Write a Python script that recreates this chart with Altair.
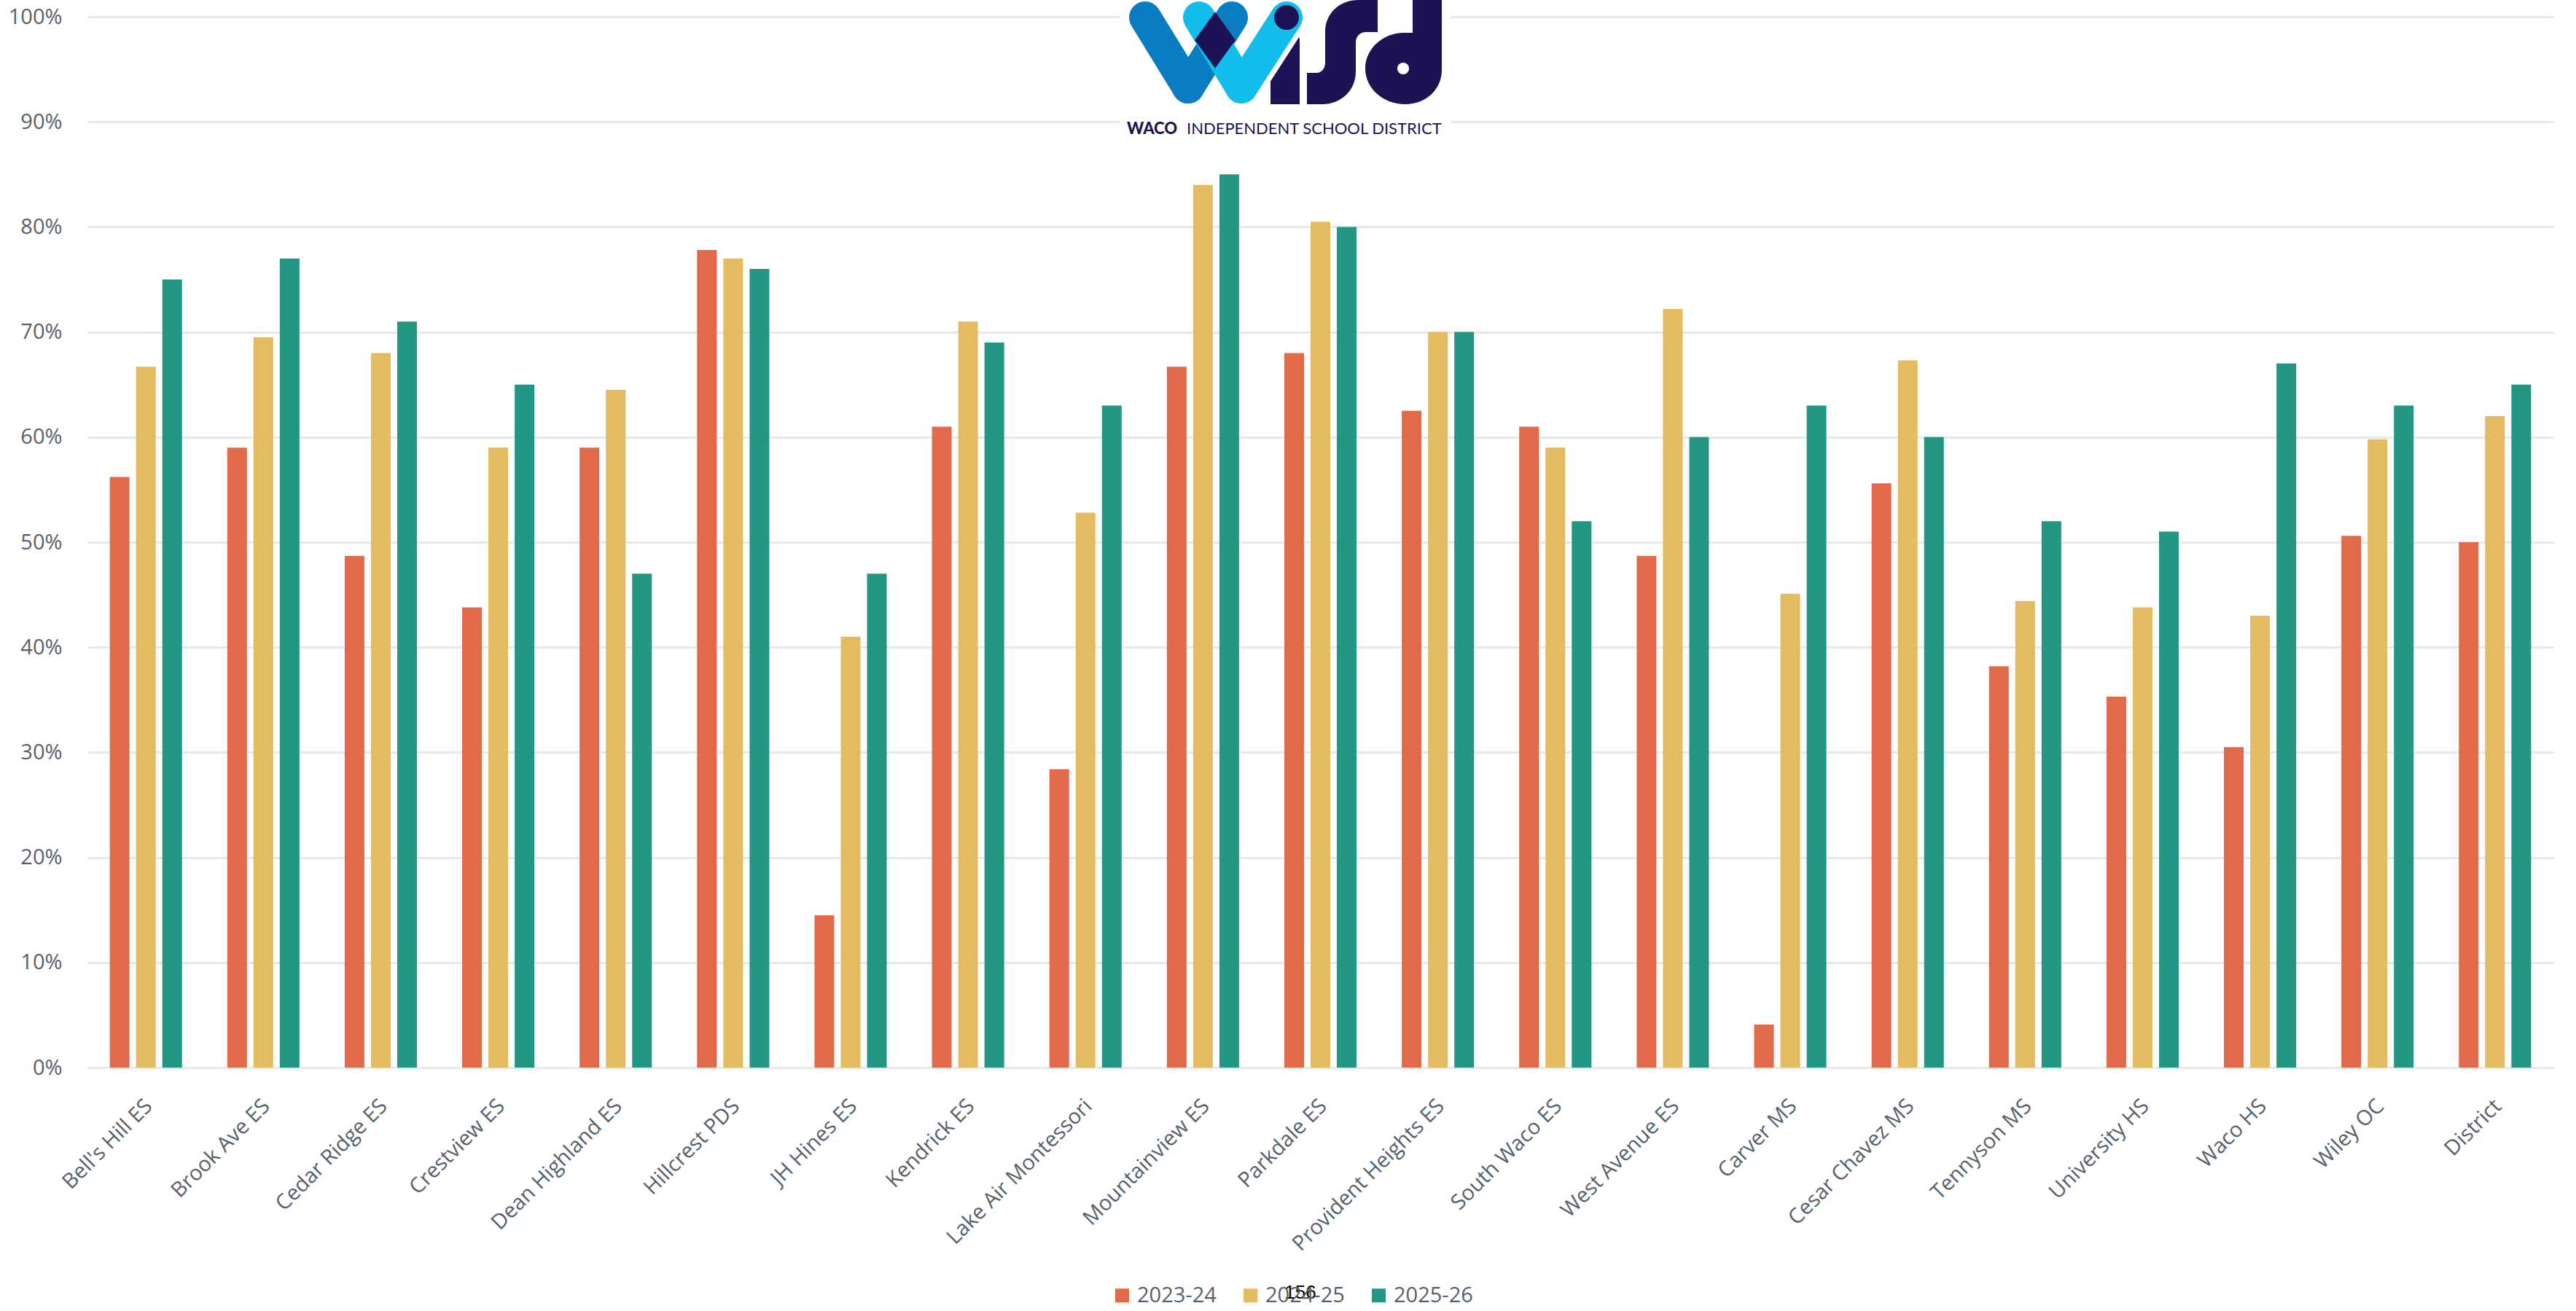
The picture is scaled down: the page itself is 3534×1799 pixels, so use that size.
import altair as alt
import pandas as pd

schools = ["Bell's Hill ES", "Brook Ave ES", "Cedar Ridge ES", "Crestview ES", "Dean Highland ES",
           "Hillcrest PDS", "JH Hines ES", "Kendrick ES", "Lake Air Montessori", "Mountainview ES",
           "Parkdale ES", "Provident Heights ES", "South Waco ES", "West Avenue ES", "Carver MS",
           "Cesar Chavez MS", "Tennyson MS", "University HS", "Waco HS", "Wiley OC", "District"]
years = ["2023-24", "2024-25", "2025-26"]
v2023 = [56.2, 59.0, 48.7, 43.8, 59.0, 77.8, 14.5, 61.0, 28.4, 66.7, 68.0, 62.5, 61.0, 48.7, 4.1, 55.6, 38.2, 35.3, 30.5, 50.6, 50.0]
v2024 = [66.7, 69.5, 68.0, 59.0, 64.5, 77.0, 41.0, 71.0, 52.8, 84.0, 80.5, 70.0, 59.0, 72.2, 45.1, 67.3, 44.4, 43.8, 43.0, 59.8, 62.0]
v2025 = [75.0, 77.0, 71.0, 65.0, 47.0, 76.0, 47.0, 69.0, 63.0, 85.0, 80.0, 70.0, 52.0, 60.0, 63.0, 60.0, 52.0, 51.0, 67.0, 63.0, 65.0]
colors = ["#E06A4A", "#E3BB60", "#249684"]
y_ticks = [0, 10, 20, 30, 40, 50, 60, 70, 80, 90, 100]
page_number = "156"

rows = []
for series, yr in zip([v2023, v2024, v2025], years):
    for s, v in zip(schools, series):
        rows.append({"School": s, "Year": yr, "Value": v})
df = pd.DataFrame(rows)

GRAY = "#56616b"

bars = alt.Chart(df).mark_bar().encode(
    x=alt.X("School:N", sort=schools,
            scale=alt.Scale(paddingInner=0.385, paddingOuter=0.19),
            axis=alt.Axis(title=None, labelAngle=-45, labelAlign="right", labelBaseline="middle",
                          labelFontSize=29, labelFont="Open Sans", labelColor=GRAY,
                          ticks=False, domain=False, labelPadding=48, labelOffset=4,
                          labelLimit=0, grid=False)),
    xOffset=alt.XOffset("Year:N", sort=years, scale=alt.Scale(paddingInner=0.25)),
    y=alt.Y("Value:Q", scale=alt.Scale(domain=[0, 100], nice=False),
            axis=alt.Axis(title=None, values=y_ticks, labelExpr="datum.value + '%'",
                          labelFontSize=29, labelFont="Open Sans", labelColor=GRAY,
                          labelPadding=35, ticks=False, domain=False,
                          gridColor="#e4e9eb", gridWidth=3)),
    color=alt.Color("Year:N", sort=years, scale=alt.Scale(domain=years, range=colors),
                    legend=alt.Legend(title=None, orient="none", legendX=1405, legendY=1740,
                                      direction="horizontal", symbolType="square", symbolSize=360,
                                      symbolStrokeWidth=0, labelFontSize=29, labelFont="Open Sans",
                                      labelColor=GRAY, columnPadding=32, labelOffset=6)),
)

one = pd.DataFrame({"k": [0]})


def ox(v):
    return v - 120


def oy(v):
    return v - 23


NAVY = "#1C1254"
MBLUE = "#0A7CC1"
LBLUE = "#13BDEB"


def norm_path(cmds, cx, cy, r):
    out = []
    for c, pts in cmds:
        vals = []
        for i in range(0, len(pts), 2):
            vals.append("%.4f,%.4f" % ((pts[i] - cx) / r, (pts[i + 1] - cy) / r))
        out.append(c + " ".join(vals))
    return "".join(out) + "Z"


def shape_layer(cmds, cx, cy, r, color):
    p = norm_path(cmds, cx, cy, r)
    return alt.Chart(one).mark_point(filled=True, opacity=1, color=color, shape=p,
                                     size=(2 * r) ** 2, strokeWidth=0).encode(
        x=alt.value(ox(cx)), y=alt.value(oy(cy)))


layers = [bars]
layers.append(alt.Chart(one).mark_rect(color="white").encode(
    x=alt.value(ox(1536)), x2=alt.value(ox(1990)), y=alt.value(oy(0)), y2=alt.value(oy(194))))


def seg(x1, y1, x2, y2, color, w):
    return alt.Chart(one).mark_rule(color=color, strokeWidth=w, strokeCap="round").encode(
        x=alt.value(ox(x1)), y=alt.value(oy(y1)), x2=alt.value(ox(x2)), y2=alt.value(oy(y2)))


# navy stem of the "i"
layers.append(alt.Chart(one).mark_rect(color=NAVY).encode(
    x=alt.value(ox(1743)), x2=alt.value(ox(1783)), y=alt.value(oy(52)), y2=alt.value(oy(143))))
# left V (medium blue)
layers.append(seg(1571, 24, 1630, 120, MBLUE, 44))
layers.append(seg(1630, 120, 1690, 24, MBLUE, 44))
# right V (light blue) with white gap against the stem
layers.append(seg(1703, 120, 1765, 24, "white", 58))
layers.append(seg(1645, 24, 1703, 120, LBLUE, 44))
layers.append(seg(1703, 120, 1765, 24, LBLUE, 44))
# navy overlap diamond
layers.append(alt.Chart(one).mark_point(filled=True, opacity=1, color=NAVY,
                                        shape="M0,-1L0.72,0L0,1L-0.72,0Z", size=6000,
                                        strokeWidth=0).encode(
    x=alt.value(ox(1667)), y=alt.value(oy(55))))
# dot of the "i"
layers.append(alt.Chart(one).mark_point(filled=True, opacity=1, color=NAVY, shape="circle",
                                        size=1150, strokeWidth=0).encode(
    x=alt.value(ox(1765)), y=alt.value(oy(24))))
# stylised "s"
s_cmds = [
    ("M", [1818, 62]), ("L", [1818, 44]),
    ("C", [1818, 18, 1838, 0, 1864, 0]), ("L", [1890, 0]), ("L", [1890, 44]),
    ("L", [1874, 44]), ("C", [1866, 44, 1860, 50, 1860, 58]), ("L", [1860, 98]),
    ("C", [1860, 124, 1840, 143, 1814, 143]), ("L", [1793, 143]), ("L", [1793, 100]),
    ("L", [1806, 100]), ("C", [1813, 100, 1818, 94, 1818, 86]),
]
layers.append(shape_layer(s_cmds, 1841.5, 71.5, 71.5, NAVY))
# stylised "d"
d_cmds = [
    ("M", [1938, 0]), ("L", [1978, 0]), ("L", [1978, 96]),
    ("C", [1978, 123, 1956, 143, 1928, 143]),
    ("C", [1897, 143, 1873, 121, 1873, 94]),
    ("C", [1873, 67, 1897, 45, 1926, 45]), ("L", [1938, 45]),
]
layers.append(shape_layer(d_cmds, 1925.5, 71.5, 71.5, NAVY))
layers.append(alt.Chart(one).mark_point(filled=True, opacity=1, color="white", shape="circle",
                                        size=260, strokeWidth=0).encode(
    x=alt.value(ox(1925)), y=alt.value(oy(94))))
# logo caption
layers.append(alt.Chart(one).mark_text(font="Lato", fontWeight=900, fontSize=22,
                                       color=NAVY, align="left", baseline="alphabetic").encode(
    x=alt.value(ox(1546)), y=alt.value(oy(184)), text=alt.value("WACO")))
layers.append(alt.Chart(one).mark_text(font="Lato", fontWeight="normal", fontSize=22,
                                       color=NAVY, align="left", baseline="alphabetic").encode(
    x=alt.value(ox(1628)), y=alt.value(oy(184)), text=alt.value("INDEPENDENT SCHOOL DISTRICT")))
# page number
layers.append(alt.Chart(one).mark_text(font="Liberation Sans", fontSize=26, color="black",
                                       align="center", baseline="alphabetic").encode(
    x=alt.value(ox(1784)), y=alt.value(oy(1782)), text=alt.value(page_number)))

chart = alt.layer(*layers).properties(
    width=3383, height=1442,
    autosize=alt.AutoSizeParams(type="none"),
    padding={"left": 120, "top": 23, "right": 31, "bottom": 334},
    background="white",
).configure_view(stroke=None)

chart.save("out.html", embed_options={"renderer": "svg", "actions": False})
